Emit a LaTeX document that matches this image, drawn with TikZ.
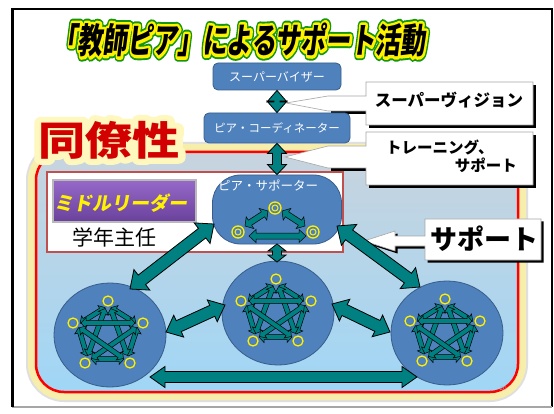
\documentclass[tikz,border=0pt]{standalone}
\usepackage{fontspec}
\usetikzlibrary{calc,shapes.geometric}
\newfontfamily\jp{Noto Sans CJK JP}
\newfontfamily\jps[FakeSlant=0.18]{Noto Sans CJK JP}
\newfontfamily\jpsA[FakeSlant=0.18,FakeBold=28]{Noto Sans CJK JP}
\newfontfamily\jpsB[FakeSlant=0.18,FakeBold=17]{Noto Sans CJK JP}
\newfontfamily\jpG[FakeBold=30]{Noto Sans CJK JP}
\definecolor{boxblue}{RGB}{79,129,189}
\definecolor{boxedge}{RGB}{56,93,138}
\definecolor{arrteal}{RGB}{0,128,128}
\definecolor{ringyellow}{RGB}{255,240,0}
\definecolor{bgtop}{RGB}{200,212,222}
\definecolor{bgmid}{RGB}{192,226,246}
\definecolor{bgbot}{RGB}{160,214,246}
\definecolor{glowyel}{RGB}{246,238,170}
\definecolor{rectred}{RGB}{192,80,77}
\definecolor{purtop}{RGB}{150,105,200}
\definecolor{purbot}{RGB}{105,65,155}
\definecolor{titlegreen}{RGB}{20,150,20}
\definecolor{dred}{RGB}{210,0,0}
\definecolor{paleyel}{RGB}{255,248,190}
\newcommand\ttl{「教師ピア」によるサポート活動}
\newcommand\darr[6][]{%
\draw[arrowbody,#1] (#2) -- ($(#2)!#6!(#3)!#5!90:(#3)$) -- ($(#2)!#6!(#3)!#4!90:(#3)$)
 -- ($(#3)!#6!(#2)!#4!-90:(#2)$) -- ($(#3)!#6!(#2)!#5!-90:(#2)$) -- (#3)
 -- ($(#3)!#6!(#2)!#5!90:(#2)$) -- ($(#3)!#6!(#2)!#4!90:(#2)$)
 -- ($(#2)!#6!(#3)!#4!-90:(#3)$) -- ($(#2)!#6!(#3)!#5!-90:(#3)$) -- cycle;}
\newcommand\pent[1]{%
 \coordinate (q1) at ($(#1)+(-2,-34)$);
 \coordinate (q2) at ($(#1)+(33,-12)$);
 \coordinate (q3) at ($(#1)+(20,28)$);
 \coordinate (q4) at ($(#1)+(-25,28)$);
 \coordinate (q5) at ($(#1)+(-37,-12)$);
 \foreach \i/\j in {1/2,2/3,3/4,4/5,5/1}{%
  \coordinate (ea) at ($(q\i)!6pt!(q\j)!4pt!-90:(q\j)$);
  \coordinate (eb) at ($(q\j)!6pt!(q\i)!4pt!90:(q\i)$);
  \darr[smallarr]{ea}{eb}{2.4pt}{5.5pt}{5pt}}
 \foreach \i/\j in {1/3,1/4,2/4,2/5,3/5}{%
  \coordinate (ea) at ($(q\i)!8pt!(q\j)$);
  \coordinate (eb) at ($(q\j)!8pt!(q\i)$);
  \darr[smallarr]{ea}{eb}{2.4pt}{5.5pt}{5pt}}
 \foreach \k in {1,...,5}{\draw[ring] (q\k) circle (5pt);}}
\begin{document}
\begin{tikzpicture}[x=1pt,y=-1pt,
 bluebox/.style={draw=boxedge, line width=0.8pt, fill=boxblue, rounded corners=5pt, inner sep=0pt},
 bluecirc/.style={ellipse, draw=boxedge, line width=0.8pt, fill=boxblue, inner sep=0pt, minimum width=112pt, minimum height=104pt},
 arrowbody/.style={fill=arrteal, draw=black, line width=0.8pt, line join=miter},
 smallarr/.style={line width=0.5pt},
 ring/.style={draw=ringyellow, line width=1.3pt},
 callout/.style={fill=white, draw=gray!70, line width=0.6pt},
 wtext/.style={text=white, font=\jp\fontsize{12}{12}\selectfont, inner sep=0pt},
 titlefont/.style={font=\jps\bfseries\fontsize{35}{35}\selectfont, inner sep=0pt, line join=round},
 drfont/.style={font=\jp\bfseries\fontsize{40}{40}\selectfont, inner sep=0pt, line join=round},
 mlfont/.style={font=\jps\bfseries\fontsize{19}{19}\selectfont, inner sep=0pt},
 cofont/.style={font=\jp\bfseries\fontsize{#1}{#1}\selectfont, inner sep=0pt, text=black}]
\useasboundingbox (0,0) rectangle (554,414);
\fill[white] (0,0) rectangle (554,414);
% frame
\draw[black, line width=2pt] (12,9) -- (552,9) -- (552,407);
\draw[gray!70, line width=1.5pt] (12,407) -- (552,407);
\draw[black, line width=3pt] (12.5,8) -- (12.5,407);
% background region
\draw[gray!25, line width=20pt, rounded corners=28pt] (36,152) rectangle (518,392);
\draw[glowyel, line width=16pt, rounded corners=28pt] (36,152) rectangle (518,392);
\shade[top color=bgtop, middle color=bgmid, bottom color=bgbot, rounded corners=28pt] (36,152) rectangle (518,392);
\draw[red, line width=2.5pt, rounded corners=28pt] (36,152) rectangle (518,392);
\node[gray!60, font=\fontsize{6}{6}\selectfont, inner sep=0pt] (pg) at (503,389) {20};
% middle leader rectangle
\draw[rectred, line width=1.3pt, fill=white] (47,172) rectangle (343,252);
\node[draw=gray!55, line width=1.5pt, top color=purtop, bottom color=purbot, minimum width=143pt, minimum height=42pt, inner sep=0pt] (ml) at (124.5,201) {};
\node[mlfont, text=yellow] (mlt) at (121,203) {ミドルリーダー};
\node[font=\jp\fontsize{21}{21}\selectfont, inner sep=0pt] (gn) at (114,237) {学年主任};
% title
\coordinate (tt) at (239,40);
\node[titlefont, font=\jpsA\bfseries\fontsize{35}{35}\selectfont, text=titlegreen] at (tt) {\scalebox{0.71}[1]{\ttl}};
\node[titlefont, font=\jpsB\bfseries\fontsize{35}{35}\selectfont, text=yellow] at (tt) {\scalebox{0.71}[1]{\ttl}};
\node[titlefont, text=black] (title) at (tt) {\scalebox{0.71}[1]{\ttl}};
% doryosei
\coordinate (dr) at (109,140);
\node[drfont, font=\jpG\bfseries\fontsize{40}{40}\selectfont, text=paleyel] at (dr) {\scalebox{1.18}[1]{同僚性}};
\node[drfont, text=dred] (drt) at (dr) {\scalebox{1.18}[1]{同僚性}};
% callouts
\fill[black] (369,85) rectangle (536,128);
\fill[black] (331,99) rectangle (369,114);
\draw[callout] (286,103) -- (328,96) -- (366,96) -- (366,82) -- (533,82) -- (533,125) -- (366,125) -- (366,111) -- (328,111) -- cycle;
\node[cofont=16.5] (c1) at (449,100) {スーパーヴィジョン};
\fill[black] (369,135) rectangle (536,188);
\fill[black] (331,149) rectangle (369,171);
\draw[callout] (285,157) -- (328,146) -- (366,146) -- (366,132) -- (533,132) -- (533,185) -- (366,185) -- (366,168) -- (328,168) -- cycle;
\node[cofont=15.5, anchor=west] (c2a) at (386,147) {トレーニング、};
\node[cofont=15.5, anchor=east] (c2b) at (517,165) {サポート};
\begin{scope}[shift={(2.5,2.5)}]
\fill[black] (364,241) -- (395,231) -- (395,236) -- (425,236) -- (425,219) -- (541,219) -- (541,260) -- (425,260) -- (425,246) -- (395,246) -- (395,251) -- cycle;
\end{scope}
\draw[callout] (364,241) -- (395,231) -- (395,236) -- (425,236) -- (425,219) -- (541,219) -- (541,260) -- (425,260) -- (425,246) -- (395,246) -- (395,251) -- cycle;
\node[cofont=27] (c3) at (484,239) {サポート};
% blue boxes
\node[bluebox, minimum width=128pt, minimum height=27pt] (sup) at (277,76.5) {};
\node[wtext] at (sup) {スーパーバイザー};
\node[bluebox, minimum width=146pt, minimum height=30pt] (coord) at (277,128) {};
\node[wtext, font=\jp\fontsize{11.5}{11.5}\selectfont] at (coord) {ピア・コーディネーター};
\node[bluebox, rounded corners=28pt, minimum width=129pt, minimum height=69pt] (blob) at (277,209.5) {};
\node[wtext, font=\jp\fontsize{12.5}{12.5}\selectfont] (bt) at (268,185) {ピア・サポーター};
% circles
\node[bluecirc] (cL) at (110,335) {};
\node[bluecirc] (cM) at (278,313) {};
\node[bluecirc] (cR) at (447,333) {};
% big arrows
\darr{sup.south}{coord.north}{3pt}{10pt}{11.5pt}
\darr{coord.south}{blob.north}{4.5pt}{9.5pt}{10pt}
\coordinate (b1) at (277,244); \coordinate (m1) at (277,262);
\darr{b1}{m1}{4.5pt}{9pt}{7pt}
\coordinate (b2) at (214,224); \coordinate (l1) at (130,289);
\darr{b2}{l1}{6pt}{13pt}{15pt}
\coordinate (b3) at (337,226); \coordinate (r1) at (420,287);
\darr{b3}{r1}{6pt}{13pt}{15pt}
\coordinate (l2) at (166,332); \coordinate (m2) at (225,305);
\darr{l2}{m2}{6pt}{12pt}{14pt}
\coordinate (m3) at (332,304); \coordinate (r2) at (390,332);
\darr{m3}{r2}{6pt}{12pt}{14pt}
\coordinate (l3) at (150,377); \coordinate (r3) at (417,377);
\darr{l3}{r3}{5.5pt}{10.5pt}{15pt}
% blob inner
\coordinate (s1) at (245,226); \coordinate (s2) at (268,211);
\darr[smallarr]{s1}{s2}{3pt}{7pt}{6pt}
\coordinate (s3) at (282,211); \coordinate (s4) at (305,226);
\darr[smallarr]{s3}{s4}{3pt}{7pt}{6pt}
\coordinate (s5) at (249,236); \coordinate (s6) at (306,236);
\darr[smallarr]{s5}{s6}{3pt}{6.5pt}{7pt}
\foreach \p in {(238,232),(313,232),(275,208)}{\draw[ring] \p circle (6pt); \draw[ring, line width=1pt] \p circle (3pt);}
% pentagon patterns
\pent{cL}
\pent{cM}
\pent{cR}
\end{tikzpicture}
\end{document}
